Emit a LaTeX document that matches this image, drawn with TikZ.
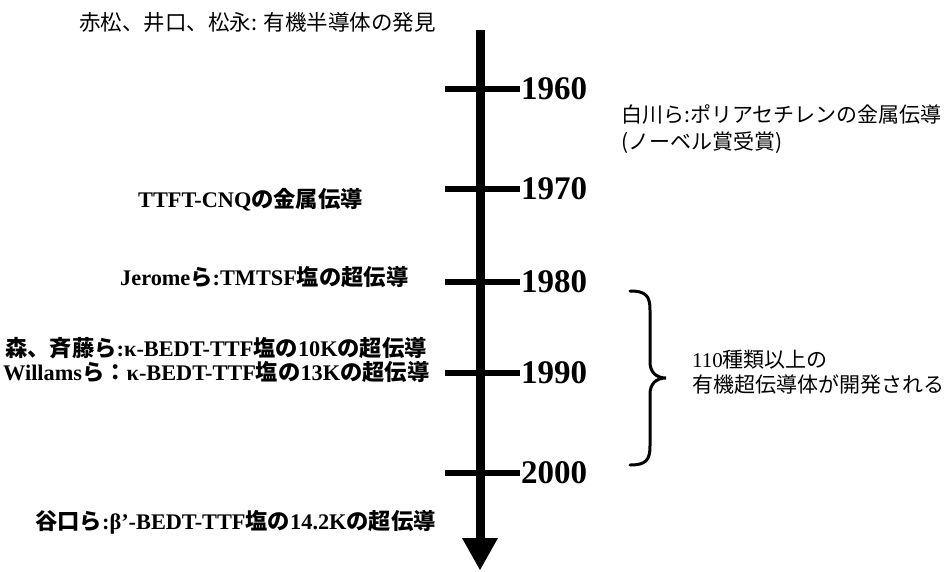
\documentclass[tikz,border=0pt]{standalone}
\usepackage{fontspec}
\setmainfont{Liberation Serif}
\newfontfamily\cjk{Noto Sans CJK JP}
\newcommand\J[1]{{\cjk #1}}
\newcommand\JB[1]{{\cjk\bfseries #1}}
\begin{document}
\begin{tikzpicture}[x=1pt,y=-1pt,
  lab/.style={inner sep=0pt,anchor=west,font=\fontsize{22.3}{24}\selectfont\bfseries},
  rlab/.style={inner sep=0pt,anchor=west,font=\fontsize{21}{23}\selectfont},
  year/.style={inner sep=0pt,anchor=west,font=\fontsize{33}{35}\selectfont\bfseries},
  tick/.style={line width=6pt},
  axis/.style={line width=9pt}]
\useasboundingbox (0,0) rectangle (946,571);
% axis
\coordinate (top) at (480,30);
\coordinate (hb) at (480,540);
\draw[axis] (top) -- (hb);
\fill (462,538) -- (498,538) -- (480,570) -- cycle;
% ticks
\foreach \y/\t/\n in {89/1960/a,189/1970/b,282/1980/c,373/1990/d,473/2000/e}{
  \coordinate (L\n) at (445,\y);
  \coordinate (R\n) at (520,\y);
  \draw[tick] (L\n) -- (R\n);
  \node[year] (y\n) at (521,\y) {\t};
}
% left labels
\node[rlab,font=\fontsize{21.5}{24}\selectfont] (t0) at (79,22) {\J{赤松、井口、松永: 有機半導体の発見}};
\node[lab] (t1) at (138,200) {TTFT-CNQ\JB{の金属伝導}};
\node[lab] (t2) at (120,277) {Jerome\JB{ら}:TMTSF\JB{塩の超伝導}};
\node[lab] (t3) at (5,348) {\JB{森、斉藤ら}:κ-BEDT-TTF\JB{塩の}10K\JB{の超伝導}};
\node[lab] (t4) at (3,372) {Willams\JB{ら：}κ-BEDT-TTF\JB{塩の}13K\JB{の超伝導}};
\node[lab] (t5) at (35,522) {\JB{谷口ら}:β'-BEDT-TTF\JB{塩の}14.2K\JB{の超伝導}};
% right labels
\node[rlab] (r1) at (621,115) {\J{白川ら:ポリアセチレンの金属伝導}};
\node[rlab] (r2) at (621,143) {\J{(ノーベル賞受賞)}};
% brace
\coordinate (b1) at (630,291);
\coordinate (bt) at (666,378);
\coordinate (b2) at (630,465);
\draw[line width=3pt,line cap=round] (b1) .. controls (646,291) and (650,296) .. (650,310)
  -- (650,362) .. controls (650,372) and (656,378) .. (bt)
  .. controls (656,378) and (650,384) .. (650,394)
  -- (650,446) .. controls (650,460) and (646,465) .. (b2);
\node[rlab] (r3) at (692,360) {110\J{種類以上の}};
\node[rlab] (r4) at (692,385) {\J{有機超伝導体が開発される}};
\end{tikzpicture}
\end{document}
